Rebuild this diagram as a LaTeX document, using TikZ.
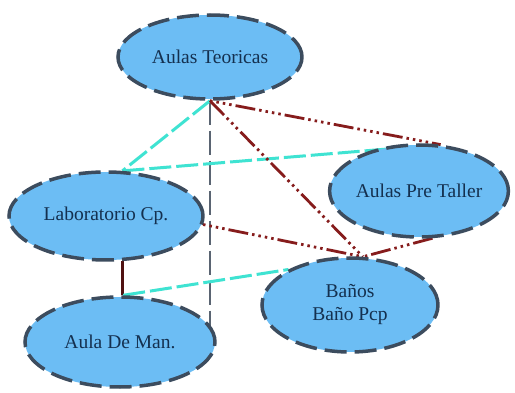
\documentclass[tikz,border=0pt]{standalone}
\usepackage{fontspec}
\setmainfont{Liberation Serif}
\usetikzlibrary{shapes.geometric,backgrounds}
\definecolor{nodefill}{HTML}{6CBDF4}
\definecolor{nodeline}{HTML}{3C4C5E}
\definecolor{nodetext}{HTML}{14304F}
\definecolor{cyanedge}{HTML}{3FE3D2}
\definecolor{rededge}{HTML}{861C1C}
\definecolor{grayedge}{HTML}{5A6472}
\tikzset{
  place/.style={ellipse, draw=nodeline, fill=nodefill, line width=3.5pt,
    dash pattern=on 22pt off 8pt, text=nodetext, inner sep=0pt,
    font=\fontsize{19.5}{23}\selectfont, align=center},
  cyanline/.style={draw=cyanedge, line width=3pt, dash pattern=on 22pt off 5pt},
  redline/.style={draw=rededge, line width=2.8pt,
    dash pattern=on 20pt off 4pt on 2.5pt off 4pt on 2.5pt off 4pt on 2.5pt off 4pt},
  reddots/.style={draw=rededge, line width=2.8pt,
    dash pattern=on 2.5pt off 4pt on 2.5pt off 4pt on 2.5pt off 4pt on 2.5pt off 4pt on 20pt off 4pt},
  grayline/.style={draw=grayedge, line width=2.5pt, dash pattern=on 24pt off 6pt},
  solidline/.style={draw=rededge!60!black, line width=2.5pt}
}
\begin{document}
\begin{tikzpicture}[x=1pt,y=-1pt]
\useasboundingbox (0,0) rectangle (515,393);
\node[place, minimum width=184pt, minimum height=84pt] (AT) at (210,57) {Aulas Teoricas};
\node[place, minimum width=194pt, minimum height=88pt] (Lab) at (106,216) {Laboratorio Cp.};
\node[place, minimum width=178pt, minimum height=92pt] (PT) at (419,191) {Aulas Pre Taller};
\node[place, minimum width=176pt, minimum height=94pt] (BA) at (350,305) {Baños\\Baño Pcp};
\node[place, minimum width=190pt, minimum height=90pt] (ADM) at (120,342) {Aula De Man.};
\begin{scope}[on background layer]
\fill[white] (0,0) rectangle (515,393);
\draw[grayline] (AT.south) -- (AT.south |- ADM.10);
\draw[cyanline] (AT.south) -- (Lab.70);
\draw[cyanline] (Lab.70) -- (PT.65);
\draw[reddots] (AT.south) -- (PT.65);
\draw[redline] (AT.south) -- (BA.75);
\draw[reddots] (Lab.-5) -- (BA.75);
\draw[redline] (PT.-74) -- (BA.75);
\draw[solidline] (Lab.-70) -- (Lab.-70 |- ADM.north);
\draw[cyanline] (ADM.86) -- (BA.150);
\end{scope}
\end{tikzpicture}
\end{document}
